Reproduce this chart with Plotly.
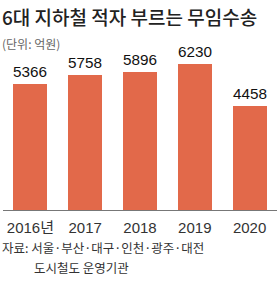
import plotly.graph_objects as go

years = ["2016년", "2017", "2018", "2019", "2020"]
values = [5366, 5758, 5896, 6230, 4458]
title_text = "6대 지하철 적자 부르는 무임수송"
unit_text = "(단위: 억원)"
source_line1 = "자료: 서울·부산·대구·인천·광주·대전"
source_line2 = "도시철도 운영기관"

FONT = "Noto Sans CJK KR"
NUMFONT = "Liberation Sans, Noto Sans CJK KR"
BAR = "#E2694A"

fig = go.Figure()
fig.add_trace(go.Bar(
    x=list(range(len(years))), y=values,
    marker=dict(color=BAR, line=dict(width=0)),
    width=0.62,
    text=[str(v) for v in values], textposition="outside",
    textfont=dict(family=NUMFONT, size=17, color="#111"),
    cliponaxis=False,
))

fig.update_layout(
    width=280, height=297,
    margin=dict(l=3, r=3, t=50, b=87),
    paper_bgcolor="white", plot_bgcolor="white",
    showlegend=False,
    bargap=0,
    xaxis=dict(
        range=[-0.5, 4.5], tickmode="array",
        tickvals=list(range(len(years))), ticktext=years,
        showgrid=False, zeroline=False,
        showline=True, linecolor="#777", linewidth=1,
        ticks="outside", ticklen=4, tickcolor="rgba(0,0,0,0)",
        tickfont=dict(family=NUMFONT, size=15, color="#333"),
        fixedrange=True,
    ),
    yaxis=dict(range=[0, 6840], visible=False, fixedrange=True),
    annotations=[
        dict(text=title_text, x=0, y=16, xref="paper", yref="paper", xanchor="left", yanchor="middle",
             showarrow=False, font=dict(family=FONT, size=19, color="#222", weight=500)),
        dict(text=unit_text, x=0, y=43, xref="paper", yref="paper", xanchor="left", yanchor="middle",
             showarrow=False, font=dict(family=FONT, size=12, color="#666")),
        dict(text=source_line1, x=0, y=247, xref="paper", yref="paper", xanchor="left", yanchor="middle",
             showarrow=False, font=dict(family=FONT, size=12.5, color="#333")),
        dict(text=source_line2, x=32, y=267, xref="paper", yref="paper", xanchor="left", yanchor="middle",
             showarrow=False, font=dict(family=FONT, size=12.5, color="#333")),
    ],
)

# convert pixel positions for annotations into paper coordinates
W, H = 280, 297
l, r, t, b = 3, 3, 50, 87
pw, ph = W - l - r, H - t - b
for a in fig.layout.annotations:
    px, py = a.x, a.y
    a.x = (px - l) / pw
    a.y = (H - b - py) / ph

fig.write_html("out.html")
